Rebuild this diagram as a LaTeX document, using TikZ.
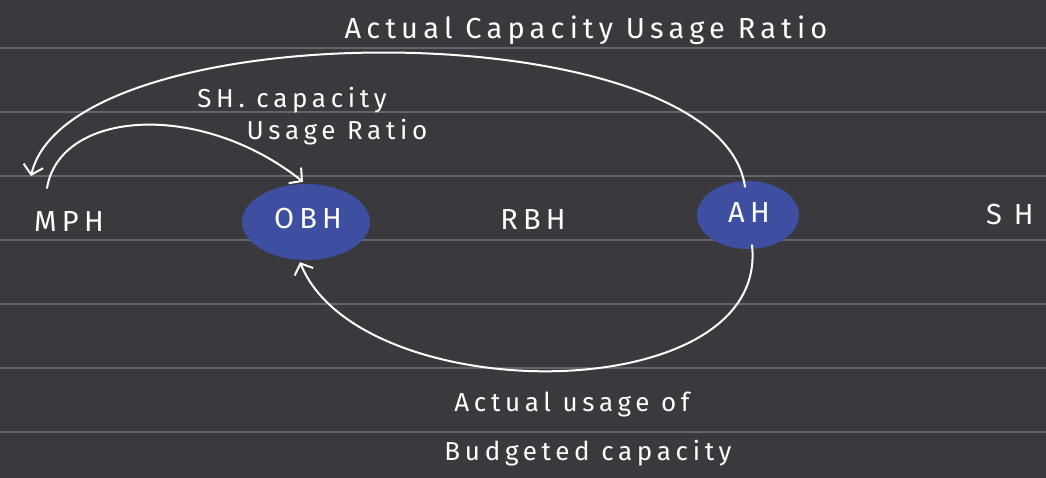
\documentclass[tikz,border=0pt]{standalone}
\usepackage{fontspec}
\usetikzlibrary{arrows.meta,shapes.geometric}
\newfontfamily\hand{Fira Sans}[LetterSpace=18]
\definecolor{board}{RGB}{58,57,62}
\definecolor{rule}{RGB}{102,101,108}
\definecolor{blob}{RGB}{62,78,160}
\tikzset{
  ink/.style={draw=white,line width=2pt,line cap=round},
  tip/.style={-{Straight Barb[length=9pt,width=20pt,line width=2pt]}},
  word/.style={text=white,inner sep=0pt,font=\hand\fontsize{29}{33}\selectfont},
  small/.style={word,font=\hand\fontsize{26}{30}\selectfont},
  hub/.style={ellipse,fill=blob,inner sep=0pt},
}
\begin{document}
\begin{tikzpicture}[x=1pt,y=-1pt]
  % board and ruled lines
  \fill[board] (0,0) rectangle (1046,478);
  \useasboundingbox (0,0) rectangle (1046,478);
  \foreach \yy in {48,112,176,240,304,368,432}
    \draw[rule,line width=1.2pt] (0,\yy) -- (1046,\yy);

  % hubs
  \node[hub,minimum width=128pt,minimum height=76pt] (OBH) at (306,222) {};
  \node[hub,minimum width=102pt,minimum height=68pt] (AH) at (748,215) {};
  \node[word] (obhlabel) at (308,219) {OBH};
  \node[word] (ahlabel) at (749,213) {AH};
  \node[word] (MPH) at (69,222) {MPH};
  \node[word] (RBH) at (533,220) {RBH};
  \node[word,anchor=west] (SH) at (986,215) {S\hspace{12pt}H};

  % flow labels
  \node[word] (top) at (586,30) {Actual Capacity Usage Ratio};
  \node[small] (sh1) at (292,100) {SH. capacity};
  \node[small] (sh2) at (337,132) {Usage Ratio};
  \node[small] (bot1) at (572,405) {Actual usage of};
  \node[small] (bot2) at (588,453) {Budgeted capacity};

  % connector ends (page y points up, so shifts upward are positive)
  \coordinate (mphin) at ([xshift=-38pt,yshift=46pt]MPH.center);
  \coordinate (mphout) at ([xshift=-22pt,yshift=34pt]MPH.center);

  % flows
  \draw[ink,tip] ([xshift=-3pt,yshift=-6pt]AH.north) .. controls (720,10) and (70,10) .. (mphin);
  \draw[ink,tip] (mphout) .. controls (60,110) and (200,100) .. ([xshift=-3pt,yshift=2pt]OBH.north);
  \draw[ink,tip] ([xshift=4pt,yshift=4pt]AH.south) .. controls (770,410) and (360,410) .. ([xshift=-6pt,yshift=-2pt]OBH.south);
\end{tikzpicture}
\end{document}
